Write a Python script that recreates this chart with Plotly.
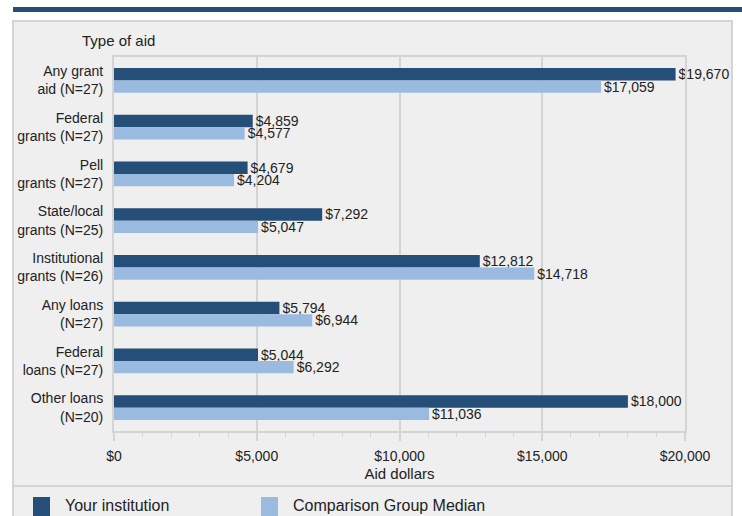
import plotly.graph_objects as go

# Aid categories (top to bottom) and average amounts
categories = [
    "Any grant<br>aid (N=27)",
    "Federal<br>grants (N=27)",
    "Pell<br>grants (N=27)",
    "State/local<br>grants (N=25)",
    "Institutional<br>grants (N=26)",
    "Any loans<br>(N=27)",
    "Federal<br>loans (N=27)",
    "Other loans<br>(N=20)",
]
your_institution = [19670, 4859, 4679, 7292, 12812, 5794, 5044, 18000]
comparison_median = [17059, 4577, 4204, 5047, 14718, 6944, 6292, 11036]
series_names = ["Your institution", "Comparison Group Median"]
x_ticks = [0, 5000, 10000, 15000, 20000]

DARK = "#254E79"
LIGHT = "#9ABBDF"
PANEL = "#EFEFEF"
RULE = "#D4D4D4"
FONT = "Liberation Sans, Arial, sans-serif"
INK = "#222222"

W, H = 742, 516
L, R, T, B = 114, 685, 57, 431  # plot area in pixels


def px(xp):
    return (xp - L) / (R - L)


def py(yp):
    return (B - yp) / (B - T)


fig = go.Figure()
for name, vals, color in [(series_names[0], your_institution, DARK),
                          (series_names[1], comparison_median, LIGHT)]:
    fig.add_trace(go.Bar(
        y=categories, x=vals, name=name, orientation="h",
        marker=dict(color=color, line=dict(width=0)),
        texttemplate="$%{x:,}", textposition="outside",
        textfont=dict(family=FONT, size=14, color=INK),
        constraintext="none", cliponaxis=False, showlegend=False,
    ))

shapes = [
    # gray panel with border
    dict(type="rect", xref="paper", yref="paper", layer="below",
         x0=px(13), x1=px(732), y0=py(525), y1=py(21),
         fillcolor=PANEL, line=dict(color=RULE, width=2)),
    # separator above legend
    dict(type="line", xref="paper", yref="paper",
         x0=px(13), x1=px(732), y0=py(486), y1=py(486),
         line=dict(color=RULE, width=2)),
    # header band
    dict(type="rect", xref="paper", yref="paper",
         x0=px(13), x1=px(745), y0=py(12), y1=py(7),
         fillcolor=DARK, line=dict(width=0)),
]

annotations = [
    dict(text="Type of aid", xref="paper", yref="paper", x=px(80), y=py(40),
         xanchor="left", yanchor="middle", showarrow=False,
         font=dict(family=FONT, size=15, color=INK)),
]

# legend swatches and labels
for name, color, sx in [(series_names[0], DARK, 33), (series_names[1], LIGHT, 261)]:
    shapes.append(dict(type="rect", xref="paper", yref="paper",
                       x0=px(sx), x1=px(sx + 17), y0=py(525), y1=py(497),
                       fillcolor=color, line=dict(width=0)))
    annotations.append(dict(text=name, xref="paper", yref="paper",
                            x=px(sx + 30), y=py(506), xanchor="left",
                            yanchor="middle", showarrow=False,
                            font=dict(family=FONT, size=16, color=INK)))

fig.update_layout(
    width=W, height=H,
    margin=dict(l=L, r=W - R, t=T, b=H - B, pad=0),
    paper_bgcolor="white", plot_bgcolor=PANEL,
    barmode="group", bargap=0.47, bargroupgap=0,
    font=dict(family=FONT, size=14, color=INK),
    shapes=shapes, annotations=annotations,
    showlegend=False,
)

fig.update_xaxes(
    range=[0, 20000], tickvals=x_ticks,
    ticktext=["$" + format(v, ",") for v in x_ticks],
    showgrid=True, gridcolor=RULE, gridwidth=2, zeroline=False,
    showline=True, linecolor=RULE, linewidth=2, mirror=True,
    ticks="outside", ticklen=8, tickwidth=2, tickcolor=RULE,
    minor=dict(dtick=1000, ticks="outside", ticklen=4, tickwidth=1,
               tickcolor=RULE, showgrid=False),
    tickfont=dict(family=FONT, size=14, color=INK), ticklabelstandoff=3,
    title=dict(text="Aid dollars", standoff=6,
               font=dict(family=FONT, size=15, color=INK)),
    automargin=False,
)
fig.update_yaxes(
    categoryorder="array", categoryarray=categories, autorange="reversed",
    showgrid=False, zeroline=False,
    showline=True, linecolor=RULE, linewidth=2, mirror=True,
    ticks="", tickfont=dict(family=FONT, size=14, color=INK),
    ticklabelstandoff=6, automargin=False,
)

fig.write_html("out.html")
